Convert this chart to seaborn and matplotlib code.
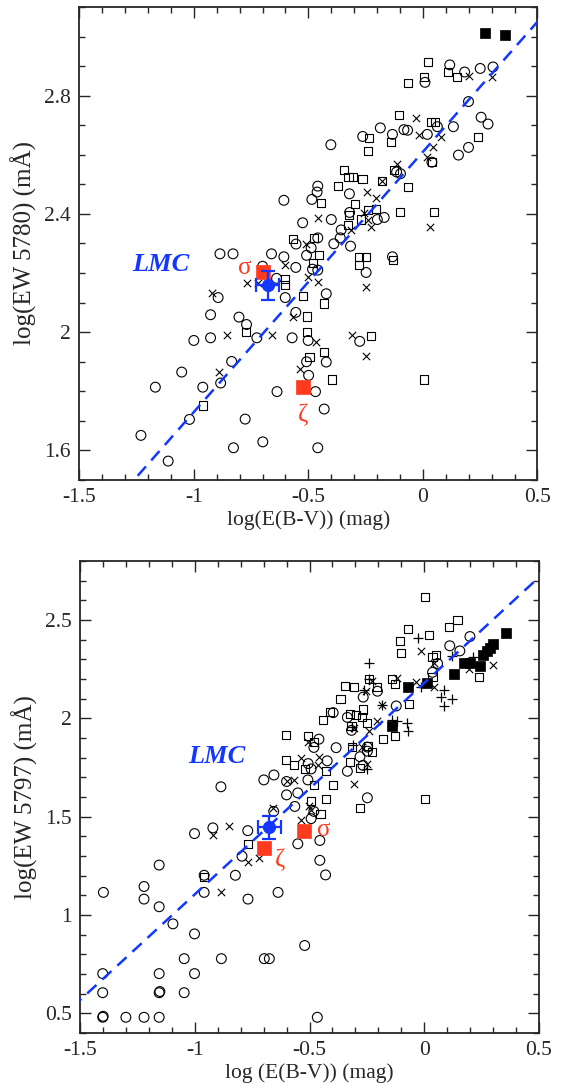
import numpy as np
import pandas as pd
import matplotlib
matplotlib.use("Agg")
import matplotlib.pyplot as plt
from matplotlib.ticker import MultipleLocator, FormatStrFormatter
import seaborn as sns

sns.set_style("ticks")
plt.rcParams["font.family"] = ["Liberation Serif", "DejaVu Serif"]
plt.rcParams["axes.unicode_minus"] = False

# ---------------- EW 5780 vs reddening (Galactic sample) ----------------
ew5780_circle_x = [-0.607, -0.485, -0.459, -0.462, -0.525, -0.554, -0.488, -0.459, -0.886, -0.829,
                   -0.661, -0.607, -0.508, -0.400, -0.357, -0.389, -0.361, -0.700, -0.555, -0.482,
                   -0.459, -0.639, -0.894, -0.601, -0.422, -0.927, -0.803, -0.770, -0.555, -1.000,
                   -0.927, -0.725, -0.571, -0.501, -0.835, -0.883, -1.053, -1.168, -0.961, -0.508,
                   -0.499, -0.637, -0.469, -1.019, -0.776, -1.231, -0.699, -0.827, -0.459, -1.112,
                   -0.431, -0.422, -0.276, -0.248, -0.133, -0.316, -0.321, -0.320, -0.169, -0.199,
                   -0.115, -0.098, 0.039, 0.155, 0.199, -0.402, -0.263, -0.186, -0.133, -0.083,
                   -0.067, 0.019, 0.063, 0.133, 0.254, 0.284, 0.199, 0.117, 0.182, 0.250,
                   0.306, 0.009]
ew5780_circle_y = [2.446, 2.449, 2.494, 2.474, 2.370, 2.298, 2.285, 2.319, 2.265, 2.265,
                   2.265, 2.255, 2.260, 2.381, 2.346, 2.299, 2.319, 2.223, 2.219, 2.213,
                   2.210, 2.182, 2.117, 2.117, 2.130, 2.059, 2.051, 2.026, 2.067, 1.972,
                   1.981, 1.981, 1.981, 1.972, 1.901, 1.828, 1.865, 1.814, 1.814, 1.900,
                   1.854, 1.799, 1.799, 1.705, 1.706, 1.651, 1.629, 1.609, 1.609, 1.564,
                   1.740, 1.899, 1.969, 2.202, 2.255, 2.291, 2.468, 2.405, 2.388, 2.381,
                   2.542, 2.536, 2.575, 2.599, 2.625, 2.634, 2.662, 2.691, 2.669, 2.685,
                   2.683, 2.669, 2.695, 2.695, 2.727, 2.704, 2.780, 2.904, 2.880, 2.892,
                   2.897, 2.845]

ew5780_square_x = [-0.569, -0.477, -0.370, -0.443, -0.454, -0.481, -0.601, -0.601, -0.523, -0.431,
                   -0.508, -0.771, -0.508, -0.961, -0.495, -0.431, -0.397, 0.004, -0.281, -0.250,
                   -0.281, -0.129, -0.228, 0.021, 0.108, 0.148, 0.004, -0.066, -0.105, 0.037,
                   0.053, 0.240, -0.234, -0.140, -0.241, -0.127, -0.345, -0.325, -0.307, -0.264,
                   -0.180, -0.066, -0.298, -0.203, -0.241, -0.323, -0.099, 0.050, -0.272, -0.326,
                   0.038]
ew5780_square_y = [2.315, 2.319, 2.494, 2.438, 2.260, 2.234, 2.179, 2.160, 2.121, 2.097,
                   2.053, 2.000, 2.000, 1.752, 1.915, 1.932, 1.840, 1.840, 2.255, 2.255,
                   2.227, 2.245, 1.986, 2.915, 2.881, 2.863, 2.863, 2.843, 2.734, 2.710,
                   2.710, 2.660, 2.657, 2.642, 2.613, 2.550, 2.550, 2.525, 2.525, 2.519,
                   2.510, 2.490, 2.434, 2.416, 2.414, 2.397, 2.406, 2.406, 2.381, 2.363,
                   2.577]

ew5780_cross_x = [-0.509, -0.456, -0.601, -0.770, -0.722, -0.922, -0.568, -0.857, -0.659, -0.468,
                  -0.889, -0.538, -0.501, -0.456, -0.310, -0.250, -0.250, 0.199, 0.301, -0.031,
                  -0.016, 0.078, 0.046, 0.019, -0.115, -0.180, -0.243, -0.204, -0.259, -0.239,
                  -0.228, 0.031, -0.316]
ew5780_cross_y = [2.298, 2.387, 2.227, 2.168, 2.168, 2.131, 2.053, 1.991, 1.991, 1.968,
                  1.865, 1.875, 2.187, 2.169, 1.992, 1.921, 2.154, 2.865, 2.862, 2.726,
                  2.667, 2.661, 2.625, 2.593, 2.570, 2.510, 2.475, 2.453, 2.402, 2.380,
                  2.355, 2.355, 2.344]

ew5780_filled_x = [0.269, 0.360]
ew5780_filled_y = [3.013, 3.004]

# LMC mean and the two Galactic reference clouds
ew5780_lmc = dict(x=-0.678, y=2.158, xerr=0.05, yerr=0.05)
ew5780_sigma = (-0.700, 2.202)
ew5780_zeta = (-0.522, 1.814)
ew5780_fit = (2.61, 0.88)   # intercept, slope

# ---------------- EW 5797 vs reddening ----------------
ew5797_circle_x = [-0.656, -0.564, -0.493, -0.921, -1.001, -0.769, -0.794, -0.551, -1.155, -0.959,
                   -0.823, -1.221, -1.398, -1.221, -0.959, -0.768, -0.637, -1.155, -1.095, -1.001,
                   -0.521, -1.046, -0.884, -0.697, -0.675, -1.401, -1.155, -1.001, -1.401, -1.155,
                   -1.152, -1.046, -1.401, -1.399, -1.300, -1.221, -1.155, -0.466, -0.455, -0.455,
                   -0.430, -0.248, -0.481, -0.459, -0.506, -0.493, -0.886, -0.699, -0.655, -0.600,
                   -0.507, -0.600, -0.551, -0.481, -0.423, 0.199, 0.111, 0.155, 0.058, 0.036,
                   -0.266, -0.204, -0.122, -0.397, -0.335, -0.317, -0.384, -0.248, -0.248, -0.280,
                   -0.335, -0.267]
ew5797_circle_y = [1.527, 1.552, 1.490, 1.443, 1.414, 1.429, 1.299, 1.362, 1.254, 1.202,
                   1.202, 1.145, 1.115, 1.081, 1.115, 1.081, 1.115, 1.042, 0.955, 0.904,
                   0.845, 0.778, 0.778, 0.778, 0.778, 0.702, 0.702, 0.702, 0.605, 0.605,
                   0.611, 0.605, 0.480, 0.485, 0.480, 0.480, 0.480, 0.480, 1.379, 1.278,
                   1.204, 1.596, 1.852, 1.894, 1.770, 1.743, 1.652, 1.687, 1.712, 1.679,
                   1.687, 1.611, 1.621, 1.527, 1.784, 2.416, 2.369, 2.343, 2.279, 2.234,
                   2.108, 2.138, 2.063, 2.029, 2.005, 1.939, 1.851, 1.854, 1.833, 1.805,
                   1.731, 1.761]

ew5797_square_x = [-0.768, -0.959, -0.430, -0.280, 0.003, -0.452, -0.601, -0.507, -0.481, -0.601,
                   -0.569, -0.520, -0.479, -0.493, -0.411, -0.442, -0.429, 0.002, 0.145, 0.108,
                   -0.069, -0.106, 0.020, -0.100, 0.050, 0.036, 0.237, 0.036, -0.344, -0.308,
                   -0.142, -0.128, -0.204, -0.365, -0.068, -0.325, -0.296, -0.266, -0.271, -0.250,
                   -0.317, -0.128, -0.178, -0.314, -0.245, -0.226, -0.325, -0.280, -0.397, -0.239]
ew5797_square_y = [1.362, 1.193, 1.588, 1.544, 1.588, 1.515, 1.914, 1.909, 1.879, 1.788,
                   1.761, 1.744, 1.659, 1.578, 2.034, 1.990, 1.732, 2.616, 2.502, 2.465,
                   2.453, 2.393, 2.424, 2.333, 2.323, 2.313, 2.209, 2.212, 2.165, 2.158,
                   2.202, 2.175, 2.159, 2.099, 2.074, 2.020, 2.017, 2.045, 2.005, 1.978,
                   1.963, 1.912, 1.893, 1.854, 1.861, 1.830, 1.778, 1.746, 1.662, 2.202]

ew5797_cross_x = [-0.660, -0.536, -0.921, -0.852, -0.768, -0.720, -0.884, -0.503, -0.506, -0.539,
                  -0.464, -0.459, -0.600, -0.569, -0.493, -0.015, 0.043, 0.196, 0.298, -0.117,
                  -0.229, -0.034, 0.043, -0.255, -0.183, -0.204, -0.307, -0.241, -0.273, -0.248,
                  -0.307]
ew5797_cross_y = [1.544, 1.485, 1.409, 1.455, 1.269, 1.288, 1.115, 1.556, 1.880, 1.796,
                  1.763, 1.806, 1.679, 1.687, 1.535, 2.343, 2.281, 2.251, 2.273, 2.207,
                  2.192, 2.183, 2.158, 2.141, 2.066, 1.989, 1.949, 1.936, 1.855, 1.766,
                  1.667]

ew5797_plus_x = [-0.027, 0.119, 0.213, -0.241, -0.241, -0.014, 0.084, 0.075, 0.119, 0.084,
                 -0.263, -0.183, -0.139, -0.117, -0.076, -0.073, -0.309, -0.248, -0.314]
ew5797_plus_y = [2.411, 2.318, 2.310, 2.282, 2.201, 2.158, 2.146, 2.111, 2.097, 2.062,
                 2.146, 2.066, 1.990, 1.986, 1.977, 1.934, 1.864, 1.741, 1.956]

ew5797_filled_x = [0.356, 0.300, 0.286, 0.272, 0.257, 0.199, 0.174, 0.242, 0.130, 0.011, -0.073, -0.141]
ew5797_filled_y = [2.436, 2.377, 2.360, 2.343, 2.322, 2.284, 2.279, 2.268, 2.224, 2.182, 2.158, 1.963]

ew5797_lmc = dict(x=-0.676, y=1.446, xerr=0.05, yerr=0.058)
ew5797_sigma = (-0.522, 1.427)
ew5797_zeta = (-0.697, 1.343)
ew5797_fit = (2.18, 1.075)

BLUE = "#1238ff"
RED = "#ff3a1e"

MARKERS = {
    "circle": dict(marker="o", s=50, facecolors="none", edgecolors="black", linewidths=0.8),
    "square": dict(marker="s", s=34, facecolors="none", edgecolors="black", linewidths=0.8),
    "cross": dict(marker="x", s=28, color="black", linewidths=0.8),
    "plus": dict(marker="+", s=55, color="black", linewidths=0.9),
    "filled": dict(marker="s", s=52, color="black", edgecolor="black", linewidth=0.5),
}


def draw_group(ax, xs, ys, kind):
    df = pd.DataFrame({"x": xs, "y": ys})
    sns.scatterplot(data=df, x="x", y="y", ax=ax, legend=False, zorder=3, **MARKERS[kind])


def draw_panel(ax, groups, lmc, sigma, zeta, fit, xlabel, ylabel, ylim, ymajor,
               sigma_off, zeta_off, lmc_text_pos):
    for kind, xs, ys in groups:
        draw_group(ax, xs, ys, kind)

    # best-fit relation
    fx = np.array([-1.6, 0.6])
    fy = fit[0] + fit[1] * fx
    sns.lineplot(x=fx, y=fy, ax=ax, color=BLUE, linewidth=1.8, zorder=4)
    ax.lines[-1].set_dashes([5, 3.2])

    # Galactic sightlines sigma Sco / zeta Oph
    red = pd.DataFrame({"x": [sigma[0], zeta[0]], "y": [sigma[1], zeta[1]]})
    sns.scatterplot(data=red, x="x", y="y", ax=ax, marker="s", s=95, color=RED,
                    edgecolor=RED, linewidth=0.5, legend=False, zorder=5)
    ax.annotate("σ", sigma, xytext=sigma_off, textcoords="offset points",
                ha="center", va="center", color=RED, fontsize=18, zorder=6)
    ax.annotate("ζ", zeta, xytext=zeta_off, textcoords="offset points",
                ha="center", va="center", color=RED, fontsize=18, zorder=6)

    # LMC average
    ax.errorbar(lmc["x"], lmc["y"], xerr=lmc["xerr"], yerr=lmc["yerr"], fmt="o",
                ms=8.5, color=BLUE, ecolor=BLUE, elinewidth=1.6, capsize=5,
                capthick=1.6, zorder=6)
    ax.text(lmc_text_pos[0], lmc_text_pos[1], "LMC", color=BLUE, fontsize=19,
            fontweight="bold", fontstyle="italic", ha="center", va="center")

    ax.set_xlim(-1.5, 0.5)
    ax.set_ylim(*ylim)
    ax.xaxis.set_major_locator(MultipleLocator(0.5))
    ax.xaxis.set_minor_locator(MultipleLocator(0.1))
    ax.yaxis.set_major_locator(MultipleLocator(ymajor))
    ax.yaxis.set_minor_locator(MultipleLocator(0.1))
    ax.xaxis.set_major_formatter(FormatStrFormatter("%g"))
    ax.yaxis.set_major_formatter(FormatStrFormatter("%g"))
    ax.tick_params(which="both", direction="in", top=True, right=True,
                   labelsize=15.5, width=1.0, pad=6)
    ax.tick_params(which="major", length=8)
    ax.tick_params(which="minor", length=4.5)
    for sp in ax.spines.values():
        sp.set_linewidth(1.3)
        sp.set_visible(True)
    ax.set_xlabel(xlabel, fontsize=15.5, labelpad=2)
    ax.set_ylabel(ylabel, fontsize=18, labelpad=5)


fig = plt.figure(figsize=(5.73, 10.86), dpi=100)
ax1 = fig.add_axes([0.1384, 0.558, 0.7996, 0.4356])
ax2 = fig.add_axes([0.1396, 0.0488, 0.8011, 0.4346])

draw_panel(
    ax1,
    [("circle", ew5780_circle_x, ew5780_circle_y),
     ("square", ew5780_square_x, ew5780_square_y),
     ("cross", ew5780_cross_x, ew5780_cross_y),
     ("filled", ew5780_filled_x, ew5780_filled_y)],
    ew5780_lmc, ew5780_sigma, ew5780_zeta, ew5780_fit,
    "log(E(B-V)) (mag)", "log(EW 5780) (mÅ)", (1.5, 3.1), 0.4,
    sigma_off=(-13, 3), zeta_off=(0, -20), lmc_text_pos=(-1.145, 2.23),
)

draw_panel(
    ax2,
    [("circle", ew5797_circle_x, ew5797_circle_y),
     ("square", ew5797_square_x, ew5797_square_y),
     ("cross", ew5797_cross_x, ew5797_cross_y),
     ("plus", ew5797_plus_x, ew5797_plus_y),
     ("filled", ew5797_filled_x, ew5797_filled_y)],
    ew5797_lmc, ew5797_sigma, ew5797_zeta, ew5797_fit,
    "log (E(B-V)) (mag)", "log(EW 5797) (mÅ)", (0.4, 2.8), 0.5,
    sigma_off=(14, 1), zeta_off=(11, -9), lmc_text_pos=(-0.905, 1.806),
)

fig.savefig("out.png", dpi=100)
